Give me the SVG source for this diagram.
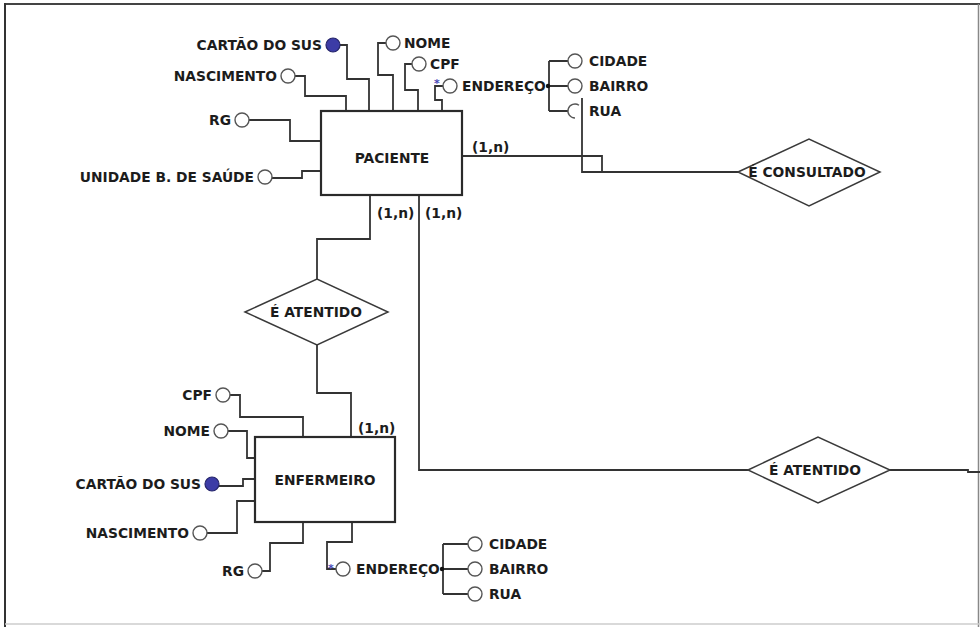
<svg xmlns="http://www.w3.org/2000/svg" width="980" height="627" viewBox="0 0 980 627">
<style>
text{font-family:"DejaVu Sans","Verdana",sans-serif;font-weight:bold;font-size:13.8px;fill:#1c1c1c}
.l{fill:none;stroke:#333;stroke-width:1.8}
.a{fill:#fff;stroke:#555;stroke-width:1.4}
.k{fill:#3c3ca6;stroke:#25256a;stroke-width:1.2}
.box{fill:#fff;stroke:#2a2a2a;stroke-width:2.2}
.dia{fill:#fff;stroke:#3a3a3a;stroke-width:1.5}
.m{text-anchor:middle}
.e{text-anchor:end}
.st{font-size:11px;fill:#4a4ab8}
</style>
<rect x="0" y="0" width="980" height="627" fill="#fff"/>
<g id="frame">
<line x1="5" y1="4" x2="980" y2="4" stroke="#444" stroke-width="2"/>
<line x1="5" y1="3" x2="5" y2="627" stroke="#333" stroke-width="2"/>
<line x1="978.5" y1="4" x2="978.5" y2="627" stroke="#888" stroke-width="1.5"/>
<line x1="5" y1="624" x2="980" y2="624" stroke="#ccc" stroke-width="1.5"/>
</g>
<g id="connectors">
<path class="l" d="M340,45 H347 V79 H369 V111"/>
<path class="l" d="M295,76 H305 V96 H346 V111"/>
<path class="l" d="M249,120 H290 V141 H321"/>
<path class="l" d="M272,178 H302 V171 H321"/>
<path class="l" d="M386,43 H378 V75 H393 V111"/>
<path class="l" d="M412,64 H405 V90 H418 V111"/>
<path class="l" d="M443,86 H435 V100 H442 V111"/>
<path class="l" d="M549,61 V111 M549,61 H568 M549,86 H568 M549,111 H568"/>
<path class="l" d="M462,156 H602 V173"/>
<path class="l" d="M582,98 V172 H738"/>
<path class="l" d="M370,195 V239 H317 V279"/>
<path class="l" d="M419,195 V470 H748"/>
<path class="l" d="M317,345 V393 H351 V437"/>
<path class="l" d="M890,470 H968 V472 H980"/>
<path class="l" d="M230,395 H240 V417 H303 V437"/>
<path class="l" d="M228,431 H247 V458 H255"/>
<path class="l" d="M219,486 H243 V479 H255"/>
<path class="l" d="M207,533 H237 V501 H255"/>
<path class="l" d="M262,571 H270 V543 H303 V522"/>
<path class="l" d="M352,522 V542 H327 V569 H336"/>
<path class="l" d="M443,544 V594 M443,544 H468 M443,569 H468 M443,594 H468"/>
<text x="472" y="152">(1,n)</text>
<text x="377" y="218">(1,n)</text>
<text x="425" y="218">(1,n)</text>
<text x="358" y="433">(1,n)</text>
</g>
<g id="paciente">
<rect class="box" x="321" y="111" width="141" height="84"/>
<text class="m" x="392" y="163">PACIENTE</text>
</g>
<g id="p-cartao"><circle class="k" cx="333" cy="45" r="7"/><text class="e" x="322" y="50">CARTÃO DO SUS</text></g>
<g id="p-nascimento"><circle class="a" cx="288" cy="76" r="7"/><text class="e" x="277" y="81">NASCIMENTO</text></g>
<g id="p-rg"><circle class="a" cx="242" cy="120" r="7"/><text class="e" x="231" y="125">RG</text></g>
<g id="p-unidade"><circle class="a" cx="265" cy="177" r="7"/><text class="e" x="254" y="182">UNIDADE B. DE SAÚDE</text></g>
<g id="p-nome"><circle class="a" cx="393" cy="43" r="7"/><text x="404" y="48">NOME</text></g>
<g id="p-cpf"><circle class="a" cx="419" cy="64" r="7"/><text x="430" y="69">CPF</text></g>
<g id="p-endereco"><text class="st" x="434" y="87">*</text><circle class="a" cx="450" cy="86" r="7"/><text x="462" y="91">ENDEREÇO</text><circle cx="548" cy="86" r="2.2" fill="#111"/></g>
<g id="p-cidade"><circle class="a" cx="575" cy="61" r="7"/><text x="589" y="66">CIDADE</text></g>
<g id="p-bairro"><circle class="a" cx="575" cy="86" r="7"/><text x="589" y="91">BAIRRO</text></g>
<g id="p-rua"><path class="a" d="M579,105.3 A7,7 0 1 0 575,118" style="fill:none"/><text x="589" y="116">RUA</text></g>
<g id="e-consultado">
<polygon class="dia" points="738,172 809,139 880,172 809,206"/>
<text class="m" x="807" y="177">É CONSULTADO</text>
</g>
<g id="e-atentido-1">
<polygon class="dia" points="245,312 317,279 388,312 317,345"/>
<text class="m" x="316" y="317">É ATENTIDO</text>
</g>
<g id="e-atentido-2">
<polygon class="dia" points="748,470 818,437 890,470 818,503"/>
<text class="m" x="815" y="475">É ATENTIDO</text>
</g>
<g id="enfermeiro">
<rect class="box" x="255" y="437" width="140" height="85"/>
<text class="m" x="325" y="485">ENFERMEIRO</text>
</g>
<g id="e-cpf"><circle class="a" cx="223" cy="395" r="7"/><text class="e" x="212" y="400">CPF</text></g>
<g id="e-nome"><circle class="a" cx="221" cy="431" r="7"/><text class="e" x="210" y="436">NOME</text></g>
<g id="e-cartao"><circle class="k" cx="212" cy="484" r="7"/><text class="e" x="201" y="489">CARTÃO DO SUS</text></g>
<g id="e-nascimento"><circle class="a" cx="200" cy="533" r="7"/><text class="e" x="189" y="538">NASCIMENTO</text></g>
<g id="e-rg"><circle class="a" cx="255" cy="571" r="7"/><text class="e" x="244" y="576">RG</text></g>
<g id="e-endereco"><text class="st" x="328" y="572">*</text><circle class="a" cx="343" cy="569" r="7"/><text x="356" y="574">ENDEREÇO</text><circle cx="442" cy="569" r="2.2" fill="#111"/></g>
<g id="e-cidade"><circle class="a" cx="475" cy="544" r="7"/><text x="489" y="549">CIDADE</text></g>
<g id="e-bairro"><circle class="a" cx="475" cy="569" r="7"/><text x="489" y="574">BAIRRO</text></g>
<g id="e-rua"><circle class="a" cx="475" cy="594" r="7"/><text x="489" y="599">RUA</text></g>
</svg>
